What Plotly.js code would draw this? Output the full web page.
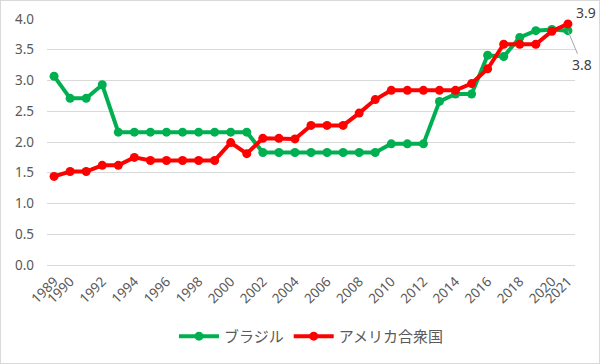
<!DOCTYPE html>
<html>
<head>
<meta charset="utf-8">
<script src="https://cdn.plot.ly/plotly-3.0.1.min.js"></script>
<style>
html,body{margin:0;padding:0;background:#fff;}
#chart{position:absolute;left:0;top:0;width:598px;height:362px;border:1px solid #d9d9d9;}
</style>
</head>
<body>
<div id="chart"></div>
<script>
const years = [1989,1990,1991,1992,1993,1994,1995,1996,1997,1998,1999,2000,2001,2002,2003,2004,2005,2006,2007,2008,2009,2010,2011,2012,2013,2014,2015,2016,2017,2018,2019,2020,2021];
const brazil = [3.07,2.71,2.71,2.93,2.16,2.16,2.16,2.16,2.16,2.16,2.16,2.16,2.16,1.83,1.83,1.83,1.83,1.83,1.83,1.83,1.83,1.97,1.97,1.97,2.66,2.78,2.78,3.41,3.39,3.70,3.81,3.83,3.81];
const usa = [1.44,1.52,1.52,1.62,1.62,1.75,1.70,1.70,1.70,1.70,1.70,1.99,1.81,2.06,2.06,2.05,2.27,2.27,2.27,2.47,2.69,2.84,2.84,2.84,2.84,2.84,2.95,3.19,3.59,3.59,3.59,3.80,3.92];
const tickYears = [1989,1990,1992,1994,1996,1998,2000,2002,2004,2006,2008,2010,2012,2014,2016,2018,2020,2021];
const seriesNames = ['ブラジル','アメリカ合衆国'];

const LATIN = 'Noto Sans, Open Sans, sans-serif';
const CJK = 'Noto Sans CJK JP, Noto Sans, sans-serif';
const traces = [
  {x: years, y: brazil, name: seriesNames[0], type: 'scatter', mode: 'lines+markers',
   line: {color: '#00b050', width: 4}, marker: {color: '#00b050', size: 9}},
  {x: years, y: usa, name: seriesNames[1], type: 'scatter', mode: 'lines+markers',
   line: {color: '#ff0000', width: 4}, marker: {color: '#ff0000', size: 9}}
];
const last = years.length - 1;
const layout = {
  width: 598, height: 362,
  margin: {l: 46, r: 24, t: 18, b: 97},
  paper_bgcolor: '#fff', plot_bgcolor: '#fff',
  font: {family: LATIN, color: '#595959', size: 14},
  showlegend: true,
  legend: {orientation: 'h', x: 0.5, xanchor: 'center', y: -0.285, yanchor: 'middle',
           font: {family: CJK, size: 15, color: '#595959'}, itemwidth: 40},
  xaxis: {type: 'linear', range: [1988.56, 2021.44], tickmode: 'array', tickvals: tickYears,
          ticktext: tickYears.map(String), tickangle: -45, showgrid: false, zeroline: false,
          showline: false, ticks: '', ticklabelstandoff: 5,
          tickfont: {family: LATIN, size: 13.5, color: '#595959'}},
  yaxis: {range: [0, 4], dtick: 0.5, tickformat: '.1f', showgrid: true, gridcolor: '#d9d9d9',
          gridwidth: 1, zeroline: true, zerolinecolor: '#d9d9d9', zerolinewidth: 1, showline: false, ticks: '',
          ticklabelstandoff: 12, tickfont: {family: LATIN, size: 13.5, color: '#595959'}},
  annotations: [
    {x: years[last], y: usa[last], text: usa[last].toFixed(1), showarrow: true, arrowhead: 0,
     arrowwidth: 1, arrowcolor: 'rgba(0,0,0,0)', ax: 18, ay: -11, xanchor: 'center', yanchor: 'middle',
     font: {family: LATIN, size: 14, color: '#404040'}},
    {x: years[last], y: brazil[last], text: brazil[last].toFixed(1), showarrow: true, arrowhead: 0,
     arrowwidth: 1, arrowcolor: '#a6a6a6', ax: 14, ay: 34, xanchor: 'center', yanchor: 'middle',
     font: {family: LATIN, size: 14, color: '#404040'}}
  ]
};
Plotly.newPlot('chart', traces, layout, {displayModeBar: false, staticPlot: true});
</script>
</body>
</html>
